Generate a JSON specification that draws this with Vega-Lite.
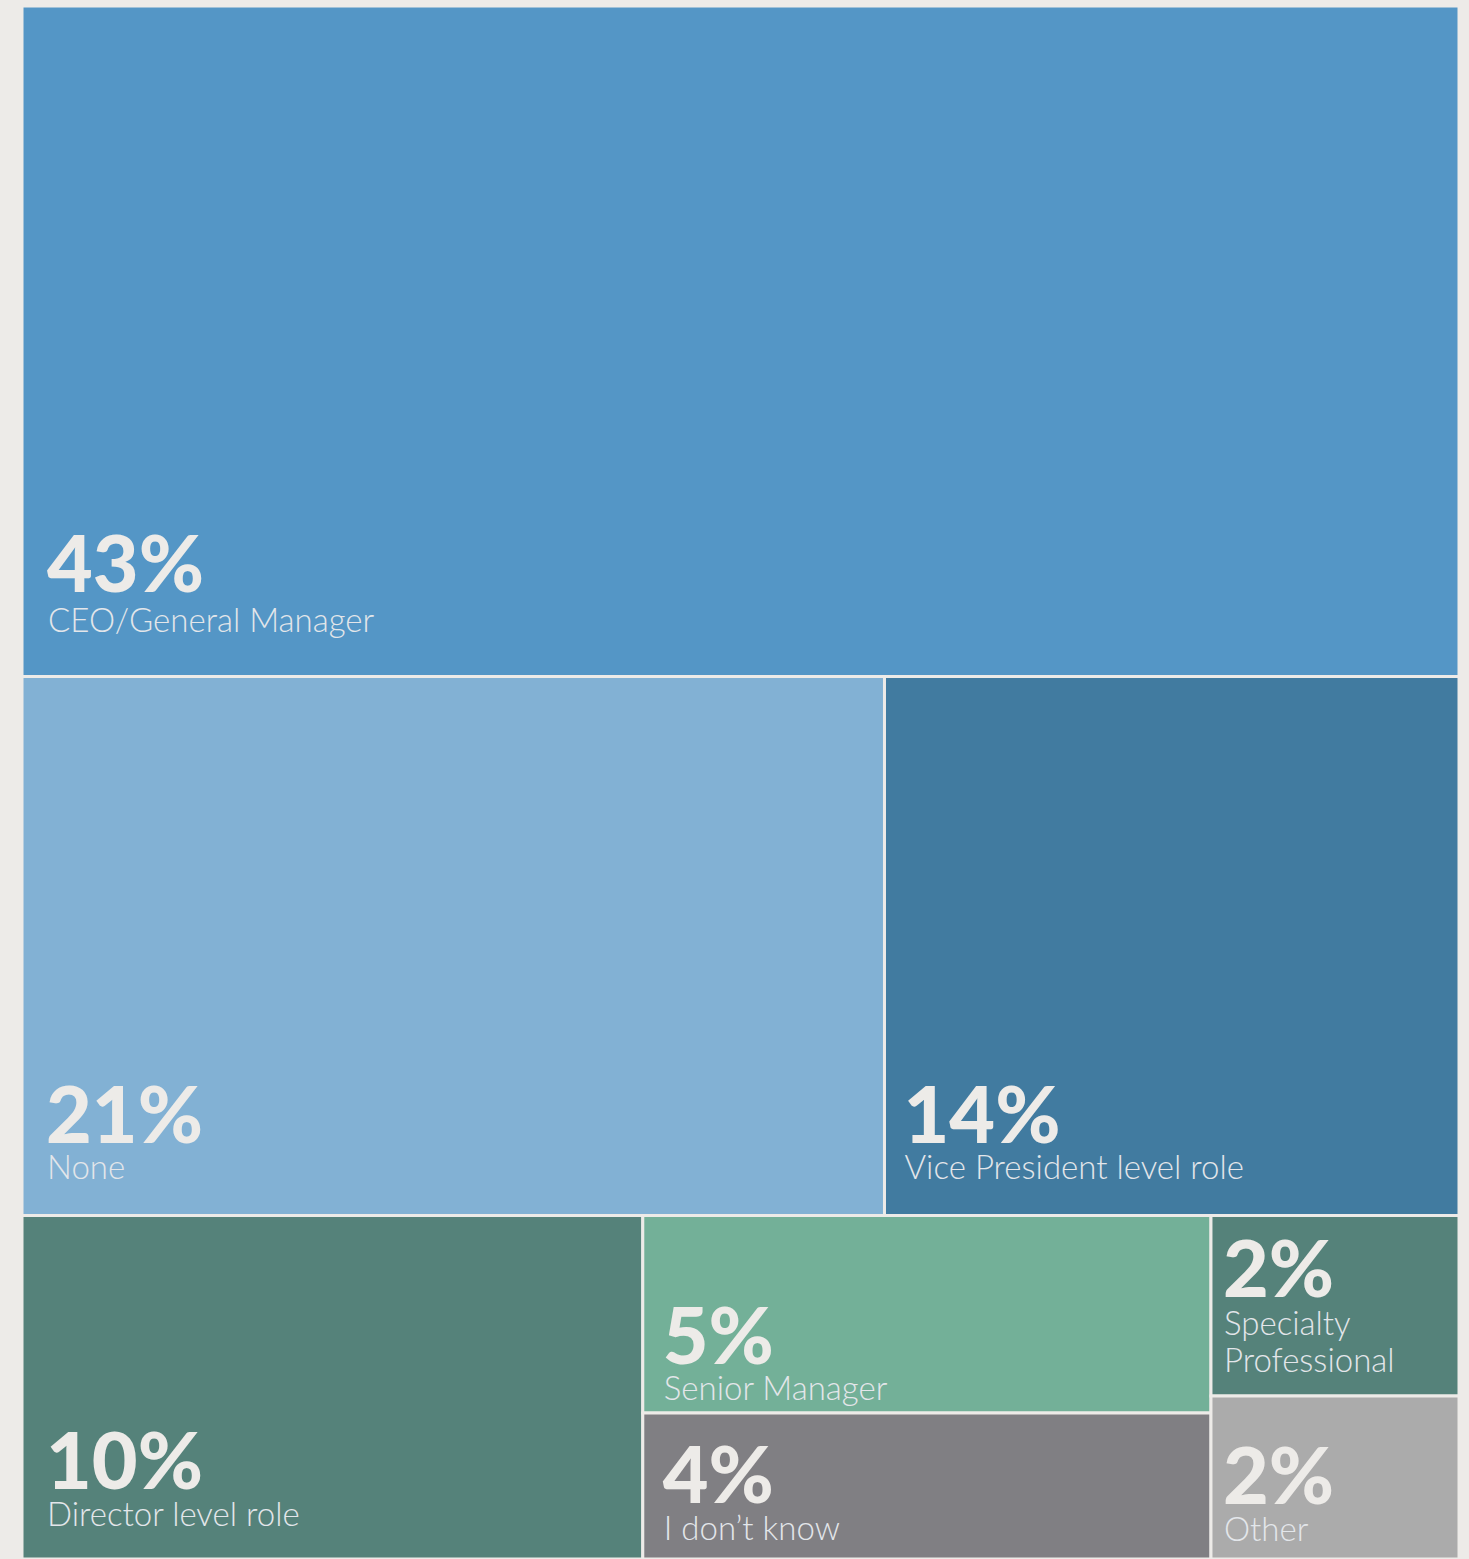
{
  "$schema": "https://vega.github.io/schema/vega-lite/v6.json",
  "width": 1437,
  "height": 1553,
  "autosize": {"type": "none"},
  "padding": {"left": 22, "top": 6, "right": 10, "bottom": 0},
  "background": "#EDEBE8",
  "config": {"view": {"stroke": null}},
  "data": {
    "values": [
      {"role": "CEO/General Manager", "share": 0.43, "x0": 0, "x1": 100, "y0": 0, "y1": 43.17},
      {"role": "None", "share": 0.21, "x0": 0, "x1": 60.02, "y0": 43.17, "y1": 77.88},
      {"role": "Vice President level role", "share": 0.14, "x0": 60.02, "x1": 100, "y0": 43.17, "y1": 77.88},
      {"role": "Director level role", "share": 0.10, "x0": 0, "x1": 43.2, "y0": 77.88, "y1": 100},
      {"role": "Senior Manager", "share": 0.05, "x0": 43.2, "x1": 82.74, "y0": 77.88, "y1": 90.6},
      {"role": "I don’t know", "share": 0.04, "x0": 43.2, "x1": 82.74, "y0": 90.6, "y1": 100},
      {"role": "Specialty Professional", "share": 0.02, "x0": 82.74, "x1": 100, "y0": 77.88, "y1": 89.5},
      {"role": "Other", "share": 0.02, "x0": 82.74, "x1": 100, "y0": 89.5, "y1": 100}
    ]
  },
  "encoding": {
    "x": {"field": "x0", "type": "quantitative", "scale": {"domain": [0, 100], "nice": false, "zero": false}, "axis": null},
    "y": {"field": "y1", "type": "quantitative", "scale": {"domain": [0, 100], "nice": false, "zero": false, "reverse": true}, "axis": null}
  },
  "layer": [
    {
      "mark": {"type": "rect", "stroke": "#EDEBE8", "strokeWidth": 3},
      "encoding": {
        "x": {"field": "x0", "type": "quantitative"},
        "x2": {"field": "x1"},
        "y": {"field": "y0", "type": "quantitative"},
        "y2": {"field": "y1"},
        "color": {
          "field": "role",
          "type": "nominal",
          "legend": null,
          "scale": {
            "domain": ["CEO/General Manager", "None", "Vice President level role", "Director level role", "Senior Manager", "I don’t know", "Specialty Professional", "Other"],
            "range": ["#5496C6", "#82B1D4", "#417BA0", "#55827A", "#73B098", "#807F83", "#55827A", "#ABABAB"]
          }
        }
      }
    },
    {"transform": [{"filter": "datum.role === 'CEO/General Manager'"}], "mark": {"type": "text", "align": "left", "baseline": "alphabetic", "font": "Lato", "fontWeight": 900, "fontSize": 79, "color": "#EDEBE8", "dx": 25, "dy": -84}, "encoding": {"text": {"field": "share", "type": "quantitative", "format": ".0%"}}},
    {"transform": [{"filter": "datum.role === 'CEO/General Manager'"}], "mark": {"type": "text", "align": "left", "baseline": "alphabetic", "font": "Lato", "fontWeight": 300, "fontSize": 33, "color": "#E3E6EA", "dx": 26, "dy": -44}, "encoding": {"text": {"field": "role", "type": "nominal"}}},

    {"transform": [{"filter": "datum.role === 'None'"}], "mark": {"type": "text", "align": "left", "baseline": "alphabetic", "font": "Lato", "fontWeight": 900, "fontSize": 79, "color": "#EDEBE8", "dx": 24, "dy": -72}, "encoding": {"text": {"field": "share", "type": "quantitative", "format": ".0%"}}},
    {"transform": [{"filter": "datum.role === 'None'"}], "mark": {"type": "text", "align": "left", "baseline": "alphabetic", "font": "Lato", "fontWeight": 300, "fontSize": 33, "color": "#E3E6EA", "dx": 25, "dy": -36}, "encoding": {"text": {"field": "role", "type": "nominal"}}},

    {"transform": [{"filter": "datum.role === 'Vice President level role'"}], "mark": {"type": "text", "align": "left", "baseline": "alphabetic", "font": "Lato", "fontWeight": 900, "fontSize": 79, "color": "#EDEBE8", "dx": 19, "dy": -72}, "encoding": {"text": {"field": "share", "type": "quantitative", "format": ".0%"}}},
    {"transform": [{"filter": "datum.role === 'Vice President level role'"}], "mark": {"type": "text", "align": "left", "baseline": "alphabetic", "font": "Lato", "fontWeight": 300, "fontSize": 33, "color": "#E3E6EA", "dx": 20, "dy": -36}, "encoding": {"text": {"field": "role", "type": "nominal"}}},

    {"transform": [{"filter": "datum.role === 'Director level role'"}], "mark": {"type": "text", "align": "left", "baseline": "alphabetic", "font": "Lato", "fontWeight": 900, "fontSize": 79, "color": "#EDEBE8", "dx": 24, "dy": -70}, "encoding": {"text": {"field": "share", "type": "quantitative", "format": ".0%"}}},
    {"transform": [{"filter": "datum.role === 'Director level role'"}], "mark": {"type": "text", "align": "left", "baseline": "alphabetic", "font": "Lato", "fontWeight": 300, "fontSize": 33, "color": "#E3E6EA", "dx": 25, "dy": -33}, "encoding": {"text": {"field": "role", "type": "nominal"}}},

    {"transform": [{"filter": "datum.role === 'Senior Manager'"}], "mark": {"type": "text", "align": "left", "baseline": "alphabetic", "font": "Lato", "fontWeight": 900, "fontSize": 79, "color": "#EDEBE8", "dx": 20, "dy": -49}, "encoding": {"text": {"field": "share", "type": "quantitative", "format": ".0%"}}},
    {"transform": [{"filter": "datum.role === 'Senior Manager'"}], "mark": {"type": "text", "align": "left", "baseline": "alphabetic", "font": "Lato", "fontWeight": 300, "fontSize": 33, "color": "#E3E6EA", "dx": 21, "dy": -13}, "encoding": {"text": {"field": "role", "type": "nominal"}}},

    {"transform": [{"filter": "datum.role === 'I don’t know'"}], "mark": {"type": "text", "align": "left", "baseline": "alphabetic", "font": "Lato", "fontWeight": 900, "fontSize": 79, "color": "#EDEBE8", "dx": 20, "dy": -56}, "encoding": {"text": {"field": "share", "type": "quantitative", "format": ".0%"}}},
    {"transform": [{"filter": "datum.role === 'I don’t know'"}], "mark": {"type": "text", "align": "left", "baseline": "alphabetic", "font": "Lato", "fontWeight": 300, "fontSize": 33, "color": "#E3E6EA", "dx": 21, "dy": -19}, "encoding": {"text": {"field": "role", "type": "nominal"}}},

    {"transform": [{"filter": "datum.role === 'Specialty Professional'"}], "mark": {"type": "text", "align": "left", "baseline": "alphabetic", "font": "Lato", "fontWeight": 900, "fontSize": 79, "color": "#EDEBE8", "dx": 12, "dy": -99}, "encoding": {"text": {"field": "share", "type": "quantitative", "format": ".0%"}}},
    {"transform": [{"filter": "datum.role === 'Specialty Professional'"}], "mark": {"type": "text", "align": "left", "baseline": "alphabetic", "font": "Lato", "fontWeight": 300, "fontSize": 33, "lineBreak": " ", "lineHeight": 37, "color": "#E3E6EA", "dx": 13, "dy": -61}, "encoding": {"text": {"field": "role", "type": "nominal"}}},

    {"transform": [{"filter": "datum.role === 'Other'"}], "mark": {"type": "text", "align": "left", "baseline": "alphabetic", "font": "Lato", "fontWeight": 900, "fontSize": 79, "color": "#EDEBE8", "dx": 12, "dy": -55}, "encoding": {"text": {"field": "share", "type": "quantitative", "format": ".0%"}}},
    {"transform": [{"filter": "datum.role === 'Other'"}], "mark": {"type": "text", "align": "left", "baseline": "alphabetic", "font": "Lato", "fontWeight": 300, "fontSize": 33, "color": "#E3E6EA", "dx": 13, "dy": -18}, "encoding": {"text": {"field": "role", "type": "nominal"}}}
  ]
}
